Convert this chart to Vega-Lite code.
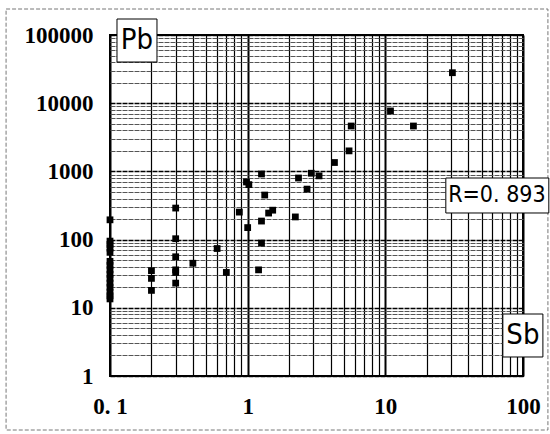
{
  "$schema": "https://vega.github.io/schema/vega-lite/v6.json",
  "autosize": "none",
  "padding": {"left": 110, "top": 35, "right": 27, "bottom": 58},
  "width": 413,
  "height": 341,
  "background": "white",
  "config": {
    "view": {"stroke": "black", "strokeWidth": 2},
    "axis": {"labelFont": "Liberation Serif", "labelFontWeight": "bold", "labelFontSize": 23, "labelColor": "black", "ticks": false, "domain": false, "labelOverlap": false, "labelFlush": false, "title": null}
  },
  "data": {"values": [
    {"Sb": 0.1, "Pb": 195}, {"Sb": 0.1, "Pb": 95}, {"Sb": 0.1, "Pb": 85}, {"Sb": 0.1, "Pb": 75}, {"Sb": 0.1, "Pb": 65},
    {"Sb": 0.1, "Pb": 48}, {"Sb": 0.1, "Pb": 42}, {"Sb": 0.1, "Pb": 36}, {"Sb": 0.1, "Pb": 31}, {"Sb": 0.1, "Pb": 27},
    {"Sb": 0.1, "Pb": 23}, {"Sb": 0.1, "Pb": 20}, {"Sb": 0.1, "Pb": 17}, {"Sb": 0.1, "Pb": 15}, {"Sb": 0.1, "Pb": 13.5},
    {"Sb": 0.2, "Pb": 35}, {"Sb": 0.2, "Pb": 27}, {"Sb": 0.2, "Pb": 18},
    {"Sb": 0.3, "Pb": 290}, {"Sb": 0.3, "Pb": 103}, {"Sb": 0.3, "Pb": 56}, {"Sb": 0.3, "Pb": 36}, {"Sb": 0.3, "Pb": 33}, {"Sb": 0.3, "Pb": 23},
    {"Sb": 0.4, "Pb": 45},
    {"Sb": 0.6, "Pb": 74},
    {"Sb": 0.7, "Pb": 33},
    {"Sb": 0.87, "Pb": 253},
    {"Sb": 0.98, "Pb": 700}, {"Sb": 1.02, "Pb": 640}, {"Sb": 1.0, "Pb": 150},
    {"Sb": 1.26, "Pb": 916}, {"Sb": 1.26, "Pb": 187}, {"Sb": 1.26, "Pb": 89},
    {"Sb": 1.33, "Pb": 450},
    {"Sb": 1.2, "Pb": 36},
    {"Sb": 1.42, "Pb": 245}, {"Sb": 1.52, "Pb": 270},
    {"Sb": 2.22, "Pb": 215},
    {"Sb": 2.34, "Pb": 800},
    {"Sb": 2.7, "Pb": 550},
    {"Sb": 2.9, "Pb": 940}, {"Sb": 3.3, "Pb": 860},
    {"Sb": 4.27, "Pb": 1350},
    {"Sb": 5.45, "Pb": 2000}, {"Sb": 5.65, "Pb": 4630},
    {"Sb": 10.9, "Pb": 7700},
    {"Sb": 16, "Pb": 4630},
    {"Sb": 30.7, "Pb": 28000}
  ]},
  "layer": [
    {
      "mark": {"type": "point", "shape": "square", "filled": true, "color": "black", "opacity": 1, "size": 46},
      "encoding": {
        "x": {"field": "Sb", "type": "quantitative",
          "scale": {"type": "log", "domain": [0.1, 100], "nice": false, "zero": false},
          "axis": {
            "values": [0.1,0.2,0.3,0.4,0.5,0.6,0.7,0.8,0.9,1,2,3,4,5,6,7,8,9,10,20,30,40,50,60,70,80,90,100],
            "labelExpr": "datum.value == 0.1 ? '0. 1' : (indexof([1,10,100], datum.value) >= 0 ? format(datum.value, 'd') : '')",
            "labelPadding": 19,
            "grid": true,
            "gridColor": "black",
            "gridOpacity": 1,
            "gridWidth": {"condition": {"test": "indexof([0.1,1,10,100], datum.value) >= 0", "value": 2}, "value": 1.2}
          }},
        "y": {"field": "Pb", "type": "quantitative",
          "scale": {"type": "log", "domain": [1, 100000], "nice": false, "zero": false},
          "axis": {
            "values": [1,2,3,4,5,6,7,8,9,10,20,30,40,50,60,70,80,90,100,200,300,400,500,600,700,800,900,1000,2000,3000,4000,5000,6000,7000,8000,9000,10000,20000,30000,40000,50000,60000,70000,80000,90000,100000],
            "labelExpr": "indexof([1,10,100,1000,10000,100000], datum.value) >= 0 ? format(datum.value, 'd') : ''",
            "labelPadding": 17,
            "grid": true,
            "gridColor": {"condition": {"test": "indexof([1,10,100,1000,10000,100000], datum.value) >= 0", "value": "black"}, "value": "#555"},
            "gridOpacity": 1,
            "gridDash": [5, 1],
            "gridWidth": {"condition": {"test": "indexof([1,10,100,1000,10000,100000], datum.value) >= 0", "value": 1.5}, "value": 1}
          }}
      }
    },
    {
      "data": {"values": [{}]},
      "mark": {"type": "rect", "fill": null, "stroke": "#777", "strokeWidth": 1, "strokeDash": [4, 2]},
      "encoding": {
        "x": {"datum": 0.01758, "type": "quantitative"},
        "x2": {"datum": 151.7},
        "y": {"datum": 240500, "type": "quantitative"},
        "y2": {"datum": 0.1615}
      }
    },
    {
      "data": {"values": [{}]},
      "mark": {"type": "rect", "fill": "white", "stroke": "black", "strokeWidth": 1},
      "encoding": {
        "x": {"datum": 0.1124, "type": "quantitative"},
        "x2": {"datum": 0.2194},
        "y": {"datum": 171600, "type": "quantitative"},
        "y2": {"datum": 40180}
      }
    },
    {
      "data": {"values": [{}]},
      "mark": {"type": "text", "font": "DejaVu Sans Condensed, Liberation Sans", "fontSize": 29, "color": "black", "align": "center", "baseline": "middle"},
      "encoding": {
        "x": {"datum": 0.157, "type": "quantitative"},
        "y": {"datum": 84500, "type": "quantitative"},
        "text": {"value": "Pb"}
      }
    },
    {
      "data": {"values": [{}]},
      "mark": {"type": "rect", "fill": "white", "stroke": "black", "strokeWidth": 1},
      "encoding": {
        "x": {"datum": 71.4, "type": "quantitative"},
        "x2": {"datum": 139.5},
        "y": {"datum": 8.11, "type": "quantitative"},
        "y2": {"datum": 1.9}
      }
    },
    {
      "data": {"values": [{}]},
      "mark": {"type": "text", "font": "DejaVu Sans Condensed, Liberation Sans", "fontSize": 29, "color": "black", "align": "center", "baseline": "middle"},
      "encoding": {
        "x": {"datum": 99.8, "type": "quantitative"},
        "y": {"datum": 3.99, "type": "quantitative"},
        "text": {"value": "Sb"}
      }
    },
    {
      "data": {"values": [{}]},
      "mark": {"type": "rect", "fill": "white", "stroke": "black", "strokeWidth": 1},
      "encoding": {
        "x": {"datum": 27.5, "type": "quantitative"},
        "x2": {"datum": 154},
        "y": {"datum": 800, "type": "quantitative"},
        "y2": {"datum": 245.6}
      }
    },
    {
      "data": {"values": [{}]},
      "mark": {"type": "text", "font": "DejaVu Sans Condensed, Liberation Sans", "fontSize": 23, "color": "black", "align": "center", "baseline": "middle"},
      "encoding": {
        "x": {"datum": 64.6, "type": "quantitative"},
        "y": {"datum": 451, "type": "quantitative"},
        "text": {"value": "R=0. 893"}
      }
    }
  ]
}
